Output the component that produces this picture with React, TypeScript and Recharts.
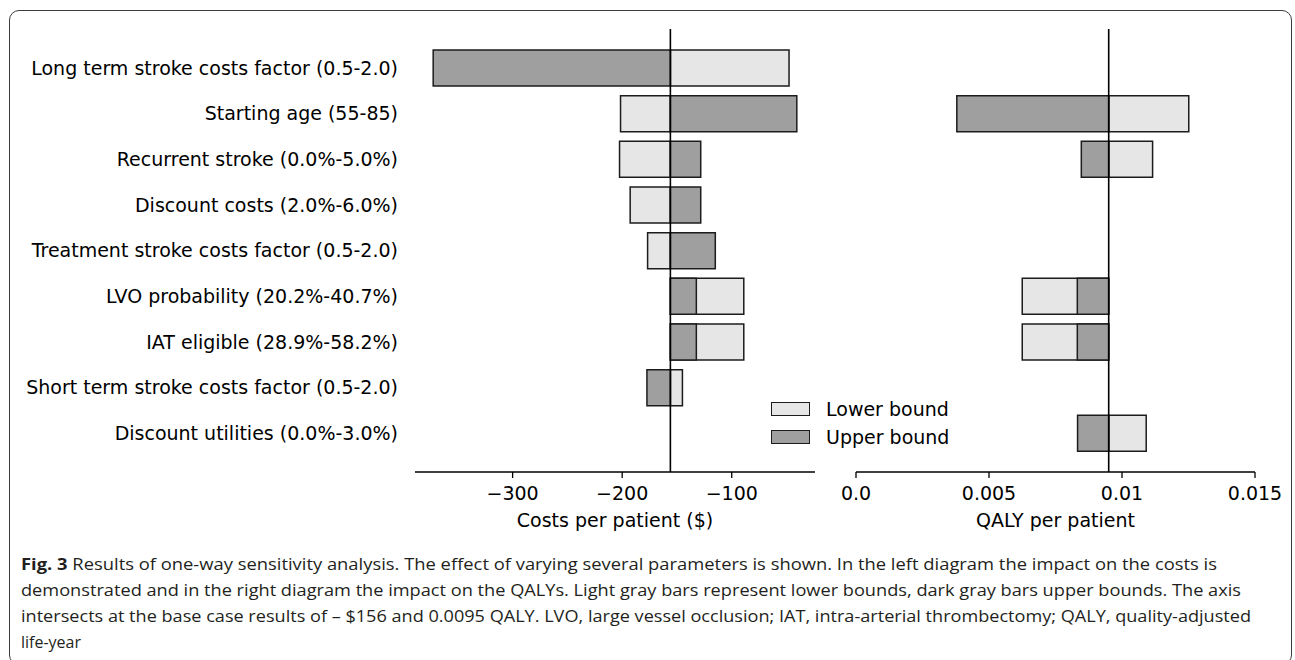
import React from "react";
import {
  BarChart,
  Bar,
  XAxis,
  YAxis,
  ReferenceLine,
  Legend,
} from "recharts";

const categories = [
  "Long term stroke costs factor (0.5-2.0)",
  "Starting age (55-85)",
  "Recurrent stroke (0.0%-5.0%)",
  "Discount costs (2.0%-6.0%)",
  "Treatment stroke costs factor (0.5-2.0)",
  "LVO probability (20.2%-40.7%)",
  "IAT eligible (28.9%-58.2%)",
  "Short term stroke costs factor (0.5-2.0)",
  "Discount utilities (0.0%-3.0%)",
];

const costBase = -156;
const costLower = [-47.7, -201.5, -202.4, -192.7, -176.8, -89, -89, -145, -156];
const costUpper = [-372.5, -40.6, -128.3, -128.3, -115, -132.3, -132.3, -177.4, -156];

const qalyBase = 0.0095;
const qalyLower = [0.0095, 0.01251, 0.01115, 0.0095, 0.0095, 0.00625, 0.00625, 0.0095, 0.01091];
const qalyUpper = [0.0095, 0.00379, 0.00847, 0.0095, 0.0095, 0.00832, 0.00832, 0.0095, 0.00833];

const costTicks = [-300, -200, -100];
const qalyTicks = [0, 0.005, 0.01, 0.015];
const qalyTickLabels = ["0.0", "0.005", "0.01", "0.015"];

const captionLines = [
  "Results of one-way sensitivity analysis. The effect of varying several parameters is shown. In the left diagram the impact on the costs is",
  "demonstrated and in the right diagram the impact on the QALYs. Light gray bars represent lower bounds, dark gray bars upper bounds. The axis",
  "intersects at the base case results of – $156 and 0.0095 QALY. LVO, large vessel occlusion; IAT, intra-arterial thrombectomy; QALY, quality-adjusted",
  "life-year",
];

const LIGHT = "#e5e6e5";
const DARK = "#9e9f9e";
const EDGE = "#1c1c1c";
const FONT = "'DejaVu Sans', sans-serif";

const range = (a: number, b: number) => [Math.min(a, b), Math.max(a, b)];

const costData = categories.map((name, i) => ({
  name,
  lower: range(costBase, costLower[i]),
  upper: range(costBase, costUpper[i]),
}));

const qalyData = categories.map((name, i) => ({
  name,
  lower: range(qalyBase, qalyLower[i]),
  upper: range(qalyBase, qalyUpper[i]),
}));

const tickStyle = { fontFamily: FONT, fontSize: 19, fill: "#000" };
const labelStyle = { fontFamily: FONT, fontSize: 19, fill: "#000" };

const LegendBox = () => (
  <div style={{ fontFamily: FONT, fontSize: 19, color: "#000" }}>
    {[
      { label: "Lower bound", color: LIGHT },
      { label: "Upper bound", color: DARK },
    ].map((item) => (
      <div
        key={item.label}
        style={{ display: "flex", alignItems: "center", height: 28 }}
      >
        <div
          style={{
            width: 39,
            height: 14,
            background: item.color,
            border: `1.4px solid ${EDGE}`,
            boxSizing: "border-box",
            marginRight: 16,
          }}
        />
        <span style={{ whiteSpace: "nowrap" }}>{item.label}</span>
      </div>
    ))}
  </div>
);

const fmtCost = (v: number) => (v < 0 ? `\u2212${Math.abs(v)}` : `${v}`);
const fmtQaly = (v: number) => qalyTickLabels[qalyTicks.indexOf(v)] ?? `${v}`;

export default function App() {
  return (
    <div
      style={{
        position: "absolute",
        left: 0,
        top: 0,
        width: 1295,
        height: 660,
        overflow: "hidden",
        background: "#fff",
      }}
    >
      {/* figure frame */}
      <div
        style={{
          position: "absolute",
          left: 9,
          top: 10,
          width: 1283,
          height: 655,
          border: "1.2px solid #3c3c3c",
          borderRadius: 10,
          boxSizing: "border-box",
        }}
      />

      <div style={{ position: "absolute", left: 0, top: 0 }}>
        <BarChart
          width={830}
          height={532}
          data={costData}
          layout="vertical"
          margin={{ top: 29, right: 15, bottom: 0, left: 0 }}
          barSize={36}
          barGap={-36}
        >
          <XAxis
            type="number"
            domain={[-389.1, -24.0]}
            allowDataOverflow
            ticks={costTicks}
            tickFormatter={fmtCost}
            tick={tickStyle}
            tickSize={6}
            tickMargin={9}
            axisLine={{ stroke: "#000", strokeWidth: 1.3 }}
            tickLine={{ stroke: "#000", strokeWidth: 1.3 }}
            height={60}
            label={{
              value: "Costs per patient ($)",
              position: "insideBottom",
              offset: 5,
              style: labelStyle,
            }}
          />
          <YAxis
            type="category"
            dataKey="name"
            width={415}
            axisLine={false}
            tickLine={false}
            tickSize={0}
            tickMargin={17}
            tick={tickStyle}
            interval={0}
            padding={{ top: 16, bottom: 16 }}
          />
          <Bar
            dataKey="lower"
            fill={LIGHT}
            stroke={EDGE}
            strokeWidth={1.5}
            isAnimationActive={false}
          />
          <Bar
            dataKey="upper"
            fill={DARK}
            stroke={EDGE}
            strokeWidth={1.5}
            isAnimationActive={false}
          />
          <ReferenceLine x={costBase} stroke="#000" strokeWidth={1.6} />
          <Legend
            layout="vertical"
            align="center"
            verticalAlign="middle"
            content={() => <LegendBox />}
            wrapperStyle={{ left: 771, top: 395, width: 200 }}
          />
        </BarChart>
      </div>

      <div style={{ position: "absolute", left: 830, top: 0 }}>
        <BarChart
          width={465}
          height={532}
          data={qalyData}
          layout="vertical"
          margin={{ top: 29, right: 40, bottom: 0, left: 26 }}
          barSize={36}
          barGap={-36}
        >
          <XAxis
            type="number"
            domain={[0, 0.015]}
            allowDataOverflow
            ticks={qalyTicks}
            tickFormatter={fmtQaly}
            tick={tickStyle}
            tickSize={6}
            tickMargin={9}
            axisLine={{ stroke: "#000", strokeWidth: 1.3 }}
            tickLine={{ stroke: "#000", strokeWidth: 1.3 }}
            height={60}
            label={{
              value: "QALY per patient",
              position: "insideBottom",
              offset: 5,
              style: labelStyle,
            }}
          />
          <YAxis
            type="category"
            dataKey="name"
            hide
            padding={{ top: 16, bottom: 16 }}
          />
          <Bar
            dataKey="lower"
            fill={LIGHT}
            stroke={EDGE}
            strokeWidth={1.5}
            isAnimationActive={false}
          />
          <Bar
            dataKey="upper"
            fill={DARK}
            stroke={EDGE}
            strokeWidth={1.5}
            isAnimationActive={false}
          />
          <ReferenceLine x={qalyBase} stroke="#000" strokeWidth={1.6} />
        </BarChart>
      </div>

      <svg
        width={1295}
        height={130}
        style={{ position: "absolute", left: 0, top: 530 }}
      >
        <g
          style={{
            fontFamily: "'Open Sans', 'Noto Sans', sans-serif",
            fontSize: 16.4,
            fill: "#231f20",
          }}
        >
          <text x={21} y={40} textLength={1196} lengthAdjust="spacingAndGlyphs">
            <tspan fontWeight="bold">Fig. 3</tspan> {captionLines[0]}
          </text>
          <text x={21} y={66} textLength={1220} lengthAdjust="spacingAndGlyphs">
            {captionLines[1]}
          </text>
          <text x={21} y={92} textLength={1230} lengthAdjust="spacingAndGlyphs">
            {captionLines[2]}
          </text>
          <text x={21} y={118} textLength={60} lengthAdjust="spacingAndGlyphs">
            {captionLines[3]}
          </text>
        </g>
      </svg>
    </div>
  );
}
